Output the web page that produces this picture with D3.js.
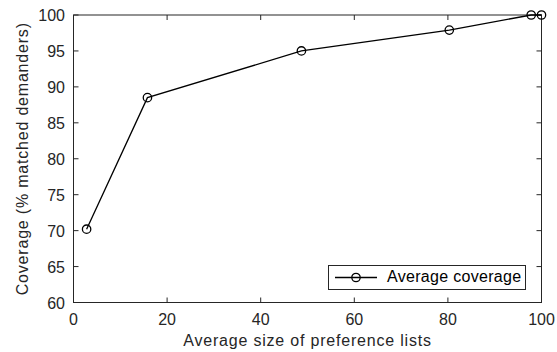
<!DOCTYPE html>
<html><head><meta charset="utf-8">
<script src="https://cdn.jsdelivr.net/npm/d3@7"></script>
<style>body{margin:0;background:#fff}svg{display:block}text{font-family:"Liberation Sans",Arial,sans-serif}</style>
</head><body><svg id="c" width="557" height="352"></svg>
<script>
const xValues=[2.8,15.8,48.7,80.3,97.8,100];
const yValues=[70.2,88.5,95.0,97.9,100,100];
const xTicks=[0,20,40,60,80,100];
const yTicks=[60,65,70,75,80,85,90,95,100];
const seriesName="Average coverage";
const xLabel="Average size of preference lists";
const yLabel="Coverage (% matched demanders)";

const svg=d3.select("#c");
const L=73.5,R=541.5,T=15,B=302.5;
const x=d3.scaleLinear().domain([0,100]).range([L,R]);
const y=d3.scaleLinear().domain([60,100]).range([B,T]);
const ax="#262626";
const fs=16;
const g=svg.append("g");
g.append("rect").attr("x",L).attr("y",T).attr("width",R-L).attr("height",B-T).attr("fill","none").attr("stroke",ax).attr("stroke-width",1);
const tl=5;
xTicks.forEach(v=>{
  g.append("line").attr("x1",x(v)).attr("x2",x(v)).attr("y1",B).attr("y2",B-tl).attr("stroke",ax);
  g.append("line").attr("x1",x(v)).attr("x2",x(v)).attr("y1",T).attr("y2",T+tl).attr("stroke",ax);
  g.append("text").attr("x",x(v)).attr("y",325).attr("text-anchor","middle").attr("font-size",fs).attr("fill",ax).text(v);
});
yTicks.forEach(v=>{
  g.append("line").attr("x1",L).attr("x2",L+tl).attr("y1",y(v)).attr("y2",y(v)).attr("stroke",ax);
  g.append("line").attr("x1",R).attr("x2",R-tl).attr("y1",y(v)).attr("y2",y(v)).attr("stroke",ax);
  g.append("text").attr("x",65).attr("y",y(v)+6).attr("text-anchor","end").attr("font-size",fs).attr("fill",ax).text(v);
});
g.append("text").attr("x",(L+R)/2).attr("y",346).attr("text-anchor","middle").attr("font-size",fs).attr("letter-spacing","0.8px").attr("fill",ax).text(xLabel);
g.append("text").attr("transform",`translate(28,${(T+B)/2}) rotate(-90)`).attr("text-anchor","middle").attr("font-size",fs).attr("letter-spacing","0.8px").attr("fill",ax).text(yLabel);

const data=xValues.map((d,i)=>[d,yValues[i]]);
g.append("path").datum(data).attr("d",d3.line().x(d=>x(d[0])).y(d=>y(d[1]))).attr("fill","none").attr("stroke","#000").attr("stroke-width",1.3);
g.selectAll("circle.p").data(data).join("circle").attr("class","p").attr("cx",d=>x(d[0])).attr("cy",d=>y(d[1])).attr("r",4.2).attr("fill","none").attr("stroke","#000").attr("stroke-width",1.3);

const lg=g.append("g");
lg.append("rect").attr("x",328.5).attr("y",265.5).attr("width",197).attr("height",24).attr("fill","#fff").attr("stroke",ax).attr("stroke-width",1);
lg.append("line").attr("x1",335).attr("x2",377).attr("y1",277.5).attr("y2",277.5).attr("stroke","#000").attr("stroke-width",1.3);
lg.append("circle").attr("cx",356).attr("cy",277.5).attr("r",4.2).attr("fill","none").attr("stroke","#000").attr("stroke-width",1.3);
lg.append("text").attr("x",387).attr("y",282).attr("font-size",fs).attr("letter-spacing","0.3px").attr("fill","#000").text(seriesName);
</script></body></html>
